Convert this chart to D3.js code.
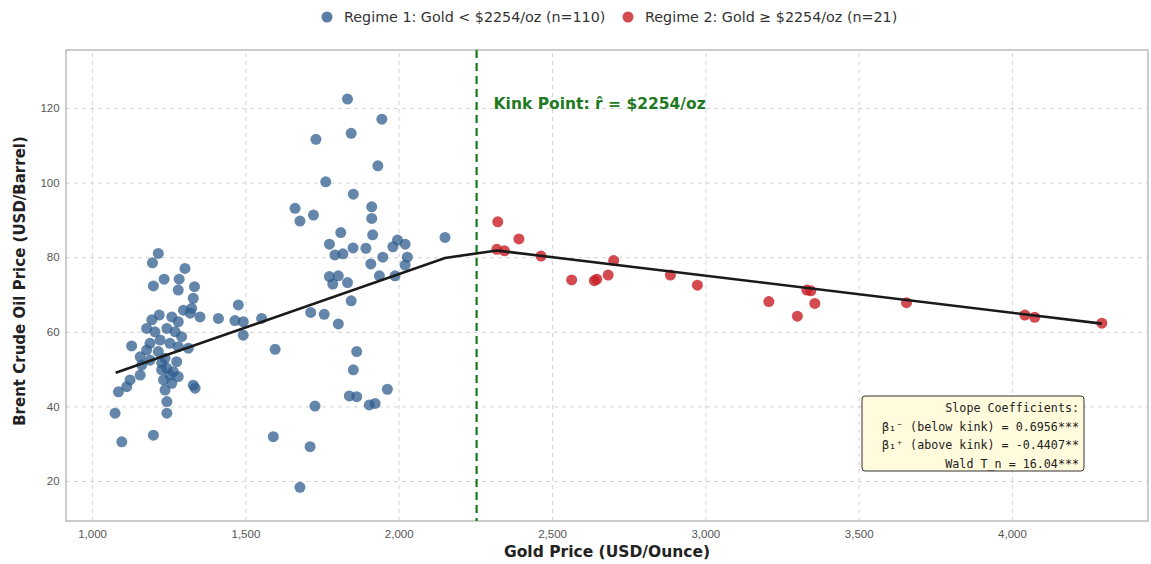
<!DOCTYPE html>
<html>
<head>
<meta charset="utf-8">
<script src="https://cdn.jsdelivr.net/npm/d3@7"></script>
<style>
  body { margin: 0; background: #fff; }
  svg { display: block; font-family: "DejaVu Sans", sans-serif; }
</style>
</head>
<body>
<svg class="chart"></svg>
<script>
var width = 1151;
var height = 564;

// regime 1 (gold below kink)
var goldLow = [1216, 1197, 1303, 1235, 1200, 1284, 1281, 1334, 1330, 1325,
  1298, 1219, 1195, 1260, 1281, 1320, 1352, 1178, 1205, 1244,
  1271, 1292, 1222, 1254, 1189, 1129, 1178, 1216, 1281, 1314,
  1157, 1238, 1162, 1227, 1276, 1244, 1265, 1227, 1254, 1281,
  1233, 1260, 1157, 1124, 1113, 1086, 1330, 1336, 1238, 1244,
  1244, 1075, 1200, 1097, 1412, 1477, 1466, 1493, 1493, 1553,
  1597, 1932, 1762, 1852, 1912, 1912, 1662, 1678, 1722, 1811,
  1915, 2151, 1774, 1851, 1893, 1792, 1818, 1981, 1996, 2021,
  2028, 1948, 1909, 2021, 1937, 1988, 1774, 1803, 1833, 1785,
  1845, 1713, 1757, 1803, 1863, 1852, 1963, 1839, 1863, 1904,
  1923, 1727, 1833, 1945, 1730, 1845, 1591, 1711, 1678, 1189];
var oilLow = [81.0, 78.5, 77.0, 74.1, 72.3, 74.1, 71.2, 72.1, 69.0, 66.3,
  65.8, 64.5, 63.2, 64.0, 62.7, 65.0, 64.0, 60.9, 60.0, 60.9,
  60.0, 58.7, 57.8, 56.9, 56.9, 56.2, 55.1, 54.7, 56.0, 55.6,
  53.3, 52.9, 51.1, 51.6, 52.0, 50.2, 49.3, 49.8, 48.4, 48.0,
  47.1, 46.2, 48.4, 47.1, 45.3, 43.9, 45.7, 44.9, 44.4, 41.3,
  38.2, 38.2, 32.3, 30.5, 63.6, 67.2, 63.0, 62.7, 59.1, 63.6,
  55.3, 104.5, 100.2, 96.9, 93.5, 90.4, 93.1, 89.7, 91.3, 86.6,
  86.0, 85.3, 83.5, 82.5, 82.4, 80.6, 80.9, 82.8, 84.6, 83.5,
  80.0, 80.0, 78.2, 77.9, 75.0, 75.0, 74.8, 75.0, 73.2, 72.8,
  68.3, 65.2, 64.7, 62.1, 54.7, 49.8, 44.6, 42.8, 42.6, 40.4,
  40.8, 40.1, 122.4, 117.0, 111.6, 113.2, 31.9, 29.2, 18.3, 52.4];

// regime 2 (gold at or above kink)
var goldHigh = [2323, 2320, 2345, 2392, 2464, 2564, 2638, 2646, 2683, 2701,
  2886, 2974, 3207, 3300, 3331, 3344, 3357, 3656, 4042, 4074, 4293];
var oilHigh = [89.5, 82.1, 81.7, 84.9, 80.3, 73.9, 73.7, 74.1, 75.2, 79.1,
  75.2, 72.5, 68.1, 64.2, 71.2, 71.0, 67.6, 67.8, 64.5, 63.9, 62.3];

// fitted piecewise line
var fitGold = [1077, 2151, 2320, 4293];
var fitOil = [49.0, 79.8, 81.8, 62.2];

var kink = 2254;
var xTicks = [1000, 1500, 2000, 2500, 3000, 3500, 4000];
var yTicks = [20, 40, 60, 80, 100, 120];
var boxLines = ['Slope Coefficients:', 'β₁⁻ (below kink) = 0.6956***',
  'β₁⁺ (above kink) = -0.4407**', 'Wald T_n = 16.04***'];

var margin = {'top': 50, 'right': 3, 'bottom': 43, 'left': 66};

var chart = d3.select('.chart')
  .attr('width', width)
  .attr('height', height);

var x = d3.scaleLinear()
  .domain([915, 4443.5])
  .range([margin.left, width - margin.right]);

var y = d3.scaleLinear()
  .domain([9.28, 135.55])
  .range([height - margin.bottom, margin.top]);

var plotW = width - margin.right - margin.left;
var plotH = height - margin.bottom - margin.top;

// grid
chart.append('g')
  .attr('transform', 'translate(0,' + (height - margin.bottom) + ')')
  .call(d3.axisBottom(x).tickValues(xTicks).tickSize(-plotH).tickFormat(d3.format(',')))
  .call(function(g){
    g.select('.domain').remove();
    g.selectAll('line').attr('stroke', '#d4d4d4').attr('stroke-dasharray', '4,4');
    g.selectAll('text').attr('fill', '#555').attr('font-size', 11.5).attr('dy', '1.2em');
  });

chart.append('g')
  .attr('transform', 'translate(' + margin.left + ',0)')
  .call(d3.axisLeft(y).tickValues(yTicks).tickSize(-plotW))
  .call(function(g){
    g.select('.domain').remove();
    g.selectAll('line').attr('stroke', '#d4d4d4').attr('stroke-dasharray', '4,4');
    g.selectAll('text').attr('fill', '#555').attr('font-size', 11.5).attr('dx', '-0.3em');
  });

// frame
chart.append('rect')
  .attr('x', margin.left).attr('y', margin.top)
  .attr('width', plotW).attr('height', plotH)
  .attr('fill', 'none').attr('stroke', '#aaa').attr('stroke-width', 1.2);

var low = goldLow.map(function(g, i){ return {'gold': g, 'oil': oilLow[i]}; });
var high = goldHigh.map(function(g, i){ return {'gold': g, 'oil': oilHigh[i]}; });

chart.append('g').selectAll('circle')
  .data(low)
  .join('circle')
    .attr('cx', function(d){ return x(d.gold); })
    .attr('cy', function(d){ return y(d.oil); })
    .attr('r', 5.5)
    .attr('fill', '#2f5d8e')
    .attr('fill-opacity', 0.75);

chart.append('g').selectAll('circle')
  .data(high)
  .join('circle')
    .attr('cx', function(d){ return x(d.gold); })
    .attr('cy', function(d){ return y(d.oil); })
    .attr('r', 5.5)
    .attr('fill', '#c81e26')
    .attr('fill-opacity', 0.8);

// kink line
chart.append('line')
  .attr('x1', x(kink)).attr('x2', x(kink))
  .attr('y1', margin.top).attr('y2', height - margin.bottom)
  .attr('stroke', '#187a1e').attr('stroke-width', 2.2)
  .attr('stroke-dasharray', '8,5');

// fitted line
var fit = fitGold.map(function(g, i){ return [x(g), y(fitOil[i])]; });
chart.append('path')
  .attr('d', d3.line()(fit))
  .attr('fill', 'none')
  .attr('stroke', '#1a1a1a')
  .attr('stroke-width', 2.6);

chart.append('text')
  .attr('x', x(kink) + 17).attr('y', y(120) + 1)
  .attr('font-size', 15.5).attr('font-weight', 'bold')
  .attr('fill', '#1e7a22')
  .text('Kink Point: r\u0302 = $2254/oz');

// coefficient box
var box = chart.append('g');
box.append('rect')
  .attr('x', 862).attr('y', 396).attr('width', 222).attr('height', 75)
  .attr('rx', 3)
  .attr('fill', '#fffbdc').attr('stroke', '#333').attr('stroke-width', 1);
box.selectAll('text')
  .data(boxLines)
  .join('text')
    .attr('x', 1079)
    .attr('y', function(d, i){ return 412 + i * 18.5; })
    .attr('text-anchor', 'end')
    .attr('font-family', 'DejaVu Sans Mono, monospace')
    .attr('font-size', 11.7)
    .attr('fill', '#222')
    .text(function(d){ return d; });

// axis labels
chart.append('text')
  .attr('x', margin.left + plotW / 2).attr('y', 557)
  .attr('text-anchor', 'middle')
  .attr('font-size', 15.5).attr('font-weight', 'bold').attr('fill', '#222')
  .text('Gold Price (USD/Ounce)');

chart.append('text')
  .attr('transform', 'translate(25,281) rotate(-90)')
  .attr('text-anchor', 'middle')
  .attr('font-size', 15).attr('font-weight', 'bold').attr('fill', '#222')
  .text('Brent Crude Oil Price (USD/Barrel)');

// legend
var legend = [
  {'label': 'Regime 1: Gold < $2254/oz (n=110)', 'color': '#2f5d8e', 'x': 327},
  {'label': 'Regime 2: Gold \u2265 $2254/oz (n=21)', 'color': '#c81e26', 'x': 628}
];
var lg = chart.append('g').selectAll('g')
  .data(legend)
  .join('g')
    .attr('transform', function(d){ return 'translate(' + d.x + ',17)'; });
lg.append('circle').attr('r', 5.5)
  .attr('fill', function(d){ return d.color; }).attr('fill-opacity', 0.8);
lg.append('text')
  .attr('x', 17).attr('dy', '0.35em')
  .attr('font-size', 14.3).attr('fill', '#333')
  .text(function(d){ return d.label; });
</script>
</body>
</html>
